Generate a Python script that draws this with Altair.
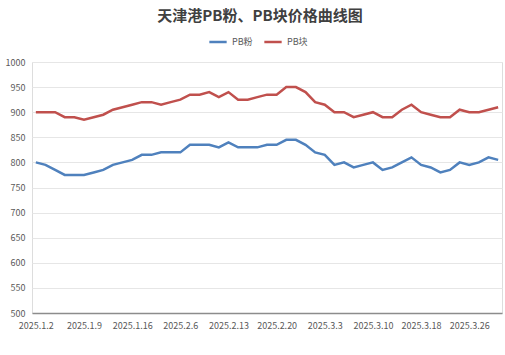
import altair as alt
import pandas as pd

dates = ["2025.1.2", "2025.1.3", "2025.1.6", "2025.1.7", "2025.1.8", "2025.1.9", "2025.1.10",
         "2025.1.13", "2025.1.14", "2025.1.15", "2025.1.16", "2025.1.17", "2025.1.20", "2025.1.21",
         "2025.1.22", "2025.2.6", "2025.2.7", "2025.2.10", "2025.2.11", "2025.2.12", "2025.2.13",
         "2025.2.14", "2025.2.17", "2025.2.18", "2025.2.19", "2025.2.20", "2025.2.21", "2025.2.24",
         "2025.2.25", "2025.2.26", "2025.3.3", "2025.3.4", "2025.3.5", "2025.3.6", "2025.3.7",
         "2025.3.10", "2025.3.11", "2025.3.12", "2025.3.13", "2025.3.14", "2025.3.18", "2025.3.19",
         "2025.3.20", "2025.3.21", "2025.3.24", "2025.3.26", "2025.3.27", "2025.3.28", "2025.3.31"]

pb_fen = [800, 795, 785, 775, 775, 775, 780, 785, 795, 800,
          805, 815, 815, 820, 820, 820, 835, 835, 835, 830,
          840, 830, 830, 830, 835, 835, 845, 845, 835, 820,
          815, 795, 800, 790, 795, 800, 785, 790, 800, 810,
          795, 790, 780, 785, 800, 795, 800, 810, 805]

pb_kuai = [900, 900, 900, 890, 890, 885, 890, 895, 905, 910,
           915, 920, 920, 915, 920, 925, 935, 935, 940, 930,
           940, 925, 925, 930, 935, 935, 950, 950, 940, 920,
           915, 900, 900, 890, 895, 900, 890, 890, 905, 915,
           900, 895, 890, 890, 905, 900, 900, 905, 910]

series_names = ["PB粉", "PB块"]
colors = ["#4F81BD", "#C0504D"]
shown_dates = dates[::5]

rows = []
for d, v in zip(dates, pb_fen):
    rows.append({"date": d, "series": series_names[0], "value": v})
for d, v in zip(dates, pb_kuai):
    rows.append({"date": d, "series": series_names[1], "value": v})
df = pd.DataFrame(rows)

font = "Noto Sans CJK SC"

chart = alt.Chart(df).mark_line(strokeWidth=2.5).encode(
    x=alt.X("date:N", sort=dates,
            scale=alt.Scale(type="point", padding=0.4),
            axis=alt.Axis(title=None, values=shown_dates, labelAngle=0, ticks=False,
                          grid=False, domainColor="#8c8c8c", domainWidth=1.5,
                          labelFontSize=9, labelColor="#595959", labelPadding=8,
                          labelFont=font)),
    y=alt.Y("value:Q", scale=alt.Scale(domain=[500, 1000], nice=False, zero=False),
            axis=alt.Axis(title=None, values=list(range(500, 1001, 50)), ticks=False,
                          domain=False, gridColor="#e6e6e6", labelFontSize=9, format="d",
                          labelColor="#595959", labelPadding=7, labelFont=font)),
    color=alt.Color("series:N", sort=series_names,
                    scale=alt.Scale(domain=series_names, range=colors),
                    legend=alt.Legend(title=None, orient="none", legendX=176, legendY=-30,
                                      direction="horizontal", symbolType="stroke",
                                      symbolStrokeWidth=2.5, symbolSize=300,
                                      labelFontSize=9, labelColor="#595959",
                                      labelFont=font, columnPadding=6)),
).properties(
    width=470, height=251,
    title=alt.TitleParams("天津港PB粉、PB块价格曲线图", fontSize=15, fontWeight="bold",
                          color="#404040", font=font, anchor="middle", offset=8, dx=-7),
    autosize=alt.AutoSizeParams(type="none"),
    padding={"left": 32, "top": 62, "right": 3, "bottom": 42},
).configure_view(stroke=None).configure(background="white")

chart.save("out.html", embed_options={"renderer": "svg", "actions": False})
